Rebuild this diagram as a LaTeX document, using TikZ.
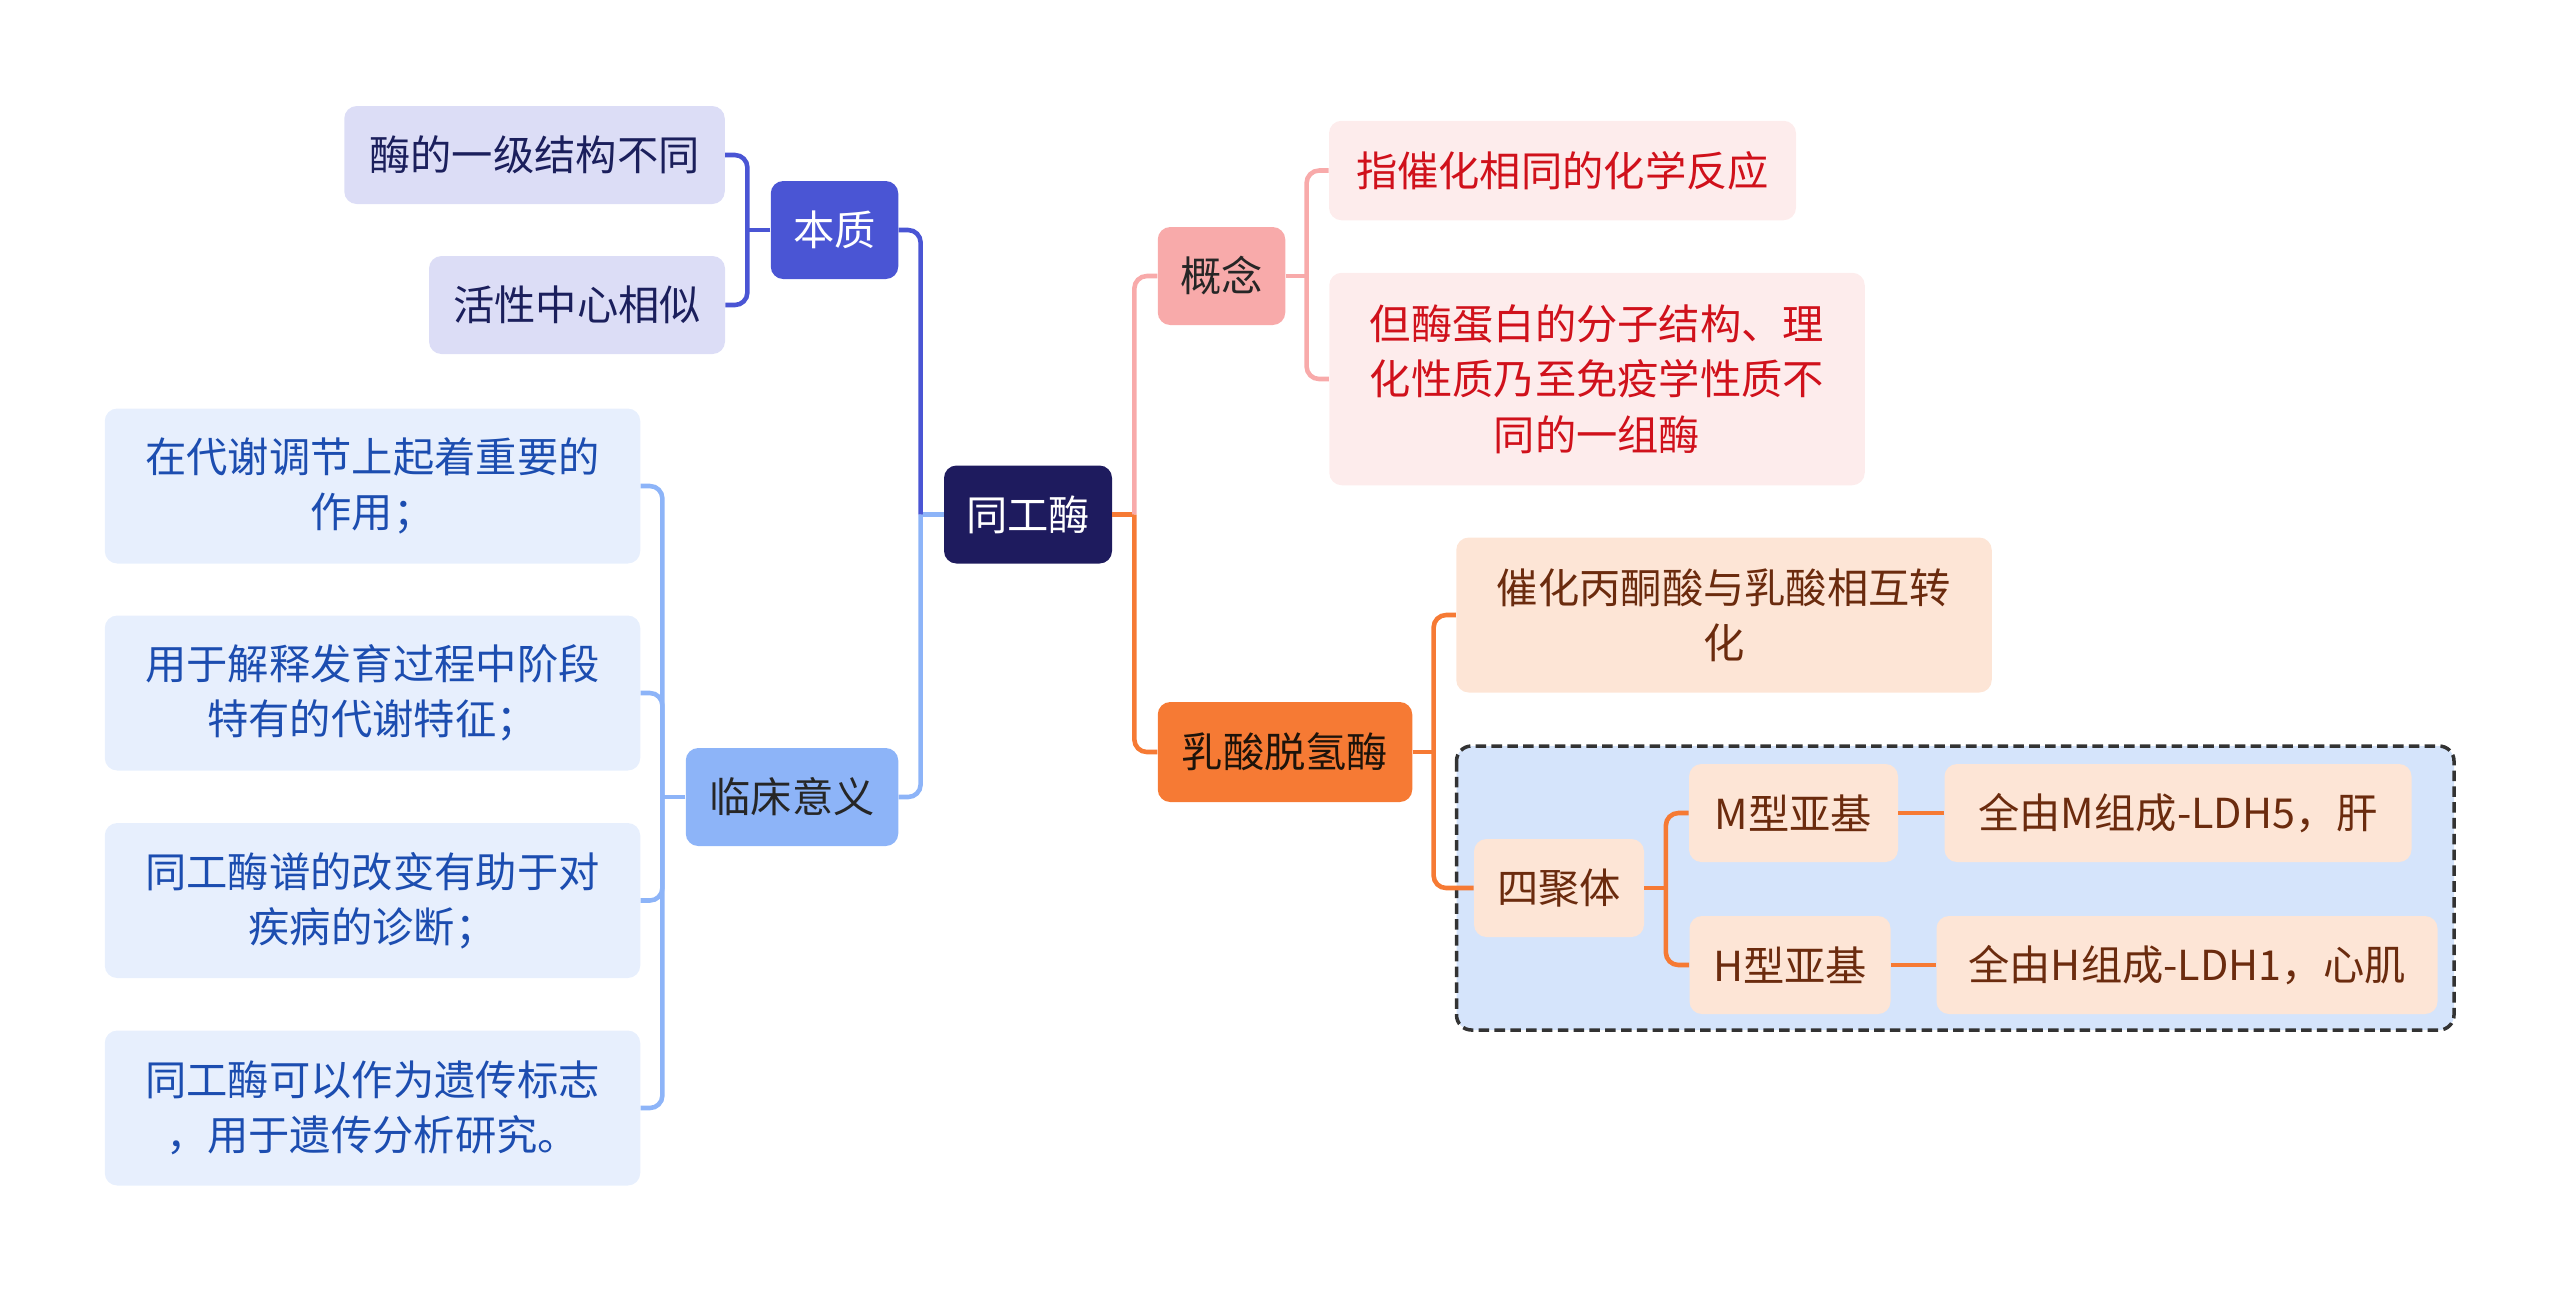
\documentclass[tikz,border=0pt]{standalone}
\usepackage{fontspec}
\newfontfamily\cjk{Noto Sans CJK SC}
\definecolor{RootClr}{HTML}{1E1B5E}
\definecolor{EssClr}{HTML}{4A55D4}
\definecolor{EssLeafClr}{HTML}{DCDDF6}
\definecolor{EssTxtClr}{HTML}{1B1F5C}
\definecolor{ClinClr}{HTML}{8DB4F8}
\definecolor{ClinLeafClr}{HTML}{E7EFFD}
\definecolor{ClinTxtClr}{HTML}{1C4DB0}
\definecolor{ConcClr}{HTML}{F8AAAA}
\definecolor{ConcLeafClr}{HTML}{FDECEC}
\definecolor{ConcTxtClr}{HTML}{D0111B}
\definecolor{LdhClr}{HTML}{F67A34}
\definecolor{LdhLeafClr}{HTML}{FDE5D6}
\definecolor{LdhTxtClr}{HTML}{6B2B0E}
\definecolor{GroupClr}{HTML}{D5E4FB}

\begin{document}
\begin{tikzpicture}[
  box/.style={rounded corners=0.25cm, align=center, inner sep=0pt,
    minimum height=1.96cm, font=\cjk\fontsize{23.5}{31.5}\selectfont},
  wire/.style={draw=#1, line width=2.6pt, rounded corners=0.25cm},
  ess/.style={box, fill=EssLeafClr, text=EssTxtClr},
  clin/.style={box, fill=ClinLeafClr, text=ClinTxtClr, minimum width=10.71cm, minimum height=3.10cm},
  conc/.style={box, fill=ConcLeafClr, text=ConcTxtClr},
  ldh/.style={box, fill=LdhLeafClr, text=LdhTxtClr}
]
\useasboundingbox (0,0) rectangle (51.2,-25.82);

% group frame behind the subunits
\draw[fill=GroupClr, draw=black!80, line width=2pt, dash pattern=on 6pt off 3pt, rounded corners=0.3cm]
  (29.13,-14.92) rectangle (49.08,-20.60);

% root
\node[box, fill=RootClr, text=white, minimum width=3.36cm] (root) at (20.56,-10.29) {同工酶};

% left side
\node[box, fill=EssClr, text=white, minimum width=2.55cm] (bz) at (16.69,-4.60) {本质};
\node[ess, minimum width=7.61cm] (m1) at (10.69,-3.10) {酶的一级结构不同};
\node[ess, minimum width=5.92cm] (m2) at (11.54,-6.10) {活性中心相似};

\node[box, fill=ClinClr, text=black!85, minimum width=4.25cm] (lc) at (15.84,-15.94) {临床意义};
\node[clin] (l1) at (7.45,-9.72) {在代谢调节上起着重要的\\作用；};
\node[clin] (l2) at (7.45,-13.86) {用于解释发育过程中阶段\\特有的代谢特征；};
\node[clin] (l3) at (7.45,-18.01) {同工酶谱的改变有助于对\\疾病的诊断；};
\node[clin] (l4) at (7.45,-22.16) {同工酶可以作为遗传标志\\，用于遗传分析研究。};

% right side
\node[box, fill=ConcClr, text=black!85, minimum width=2.55cm] (gn) at (24.43,-5.52) {概念};
\node[conc, minimum width=9.34cm, minimum height=1.99cm] (g1) at (31.25,-3.41) {指催化相同的化学反应};
\node[conc, minimum width=10.71cm, minimum height=4.25cm] (g2) at (31.94,-7.58)
  {但酶蛋白的分子结构、理\\化性质乃至免疫学性质不\\同的一组酶};

\node[box, fill=LdhClr, text=black!85!brown, minimum width=5.09cm, minimum height=2cm] (ld) at (25.70,-15.04) {乳酸脱氢酶};
\node[ldh, minimum width=10.71cm, minimum height=3.10cm] (c1) at (34.48,-12.30) {催化丙酮酸与乳酸相互转\\化};
\node[ldh, minimum width=3.40cm] (sj) at (31.18,-17.76) {四聚体};
\node[ldh, minimum width=4.18cm] (mx) at (35.87,-16.26) {M型亚基};
\node[ldh, minimum width=9.34cm] (mq) at (43.56,-16.26) {全由M组成-LDH5，肝};
\node[ldh, minimum width=4.02cm] (hx) at (35.80,-19.30) {H型亚基};
\node[ldh, minimum width=10.02cm] (hq) at (43.74,-19.30) {全由H组成-LDH1，心肌};

% connectors
\draw[wire=ClinClr] (root.west) -- ++(-0.46,0) coordinate (rlj);
\draw[wire=EssClr] (rlj) |- (bz.east);
\draw[wire=ClinClr] (rlj) |- (lc.east);

\draw[wire=EssClr] (bz.west) -- ++(-0.46,0) coordinate (bzj);
\draw[wire=EssClr] (bzj) |- (m1.east);
\draw[wire=EssClr] (bzj) |- (m2.east);

\draw[wire=ClinClr] (lc.west) -- ++(-0.46,0) coordinate (lcj);
\foreach \n in {l1,l2,l3,l4}
  \draw[wire=ClinClr] (lcj) |- (\n.east);

\draw[wire=LdhClr] (root.east) -- ++(0.44,0) coordinate (rrj);
\draw[wire=ConcClr] (rrj) |- (gn.west);
\draw[wire=LdhClr] (rrj) |- (ld.west);

\draw[wire=ConcClr] (gn.east) -- ++(0.42,0) coordinate (gnj);
\draw[wire=ConcClr] (gnj) |- (g1.west);
\draw[wire=ConcClr] (gnj) |- (g2.west);

\draw[wire=LdhClr] (ld.east) -- ++(0.42,0) coordinate (ldj);
\draw[wire=LdhClr] (ldj) |- (c1.west);
\draw[wire=LdhClr] (ldj) |- (sj.west);

\draw[wire=LdhClr] (sj.east) -- ++(0.43,0) coordinate (sjj);
\draw[wire=LdhClr] (sjj) |- (mx.west);
\draw[wire=LdhClr] (sjj) |- (hx.west);

\draw[wire=LdhClr] (mx.east) -- (mq.west);
\draw[wire=LdhClr] (hx.east) -- (hq.west);

\end{tikzpicture}
\end{document}
